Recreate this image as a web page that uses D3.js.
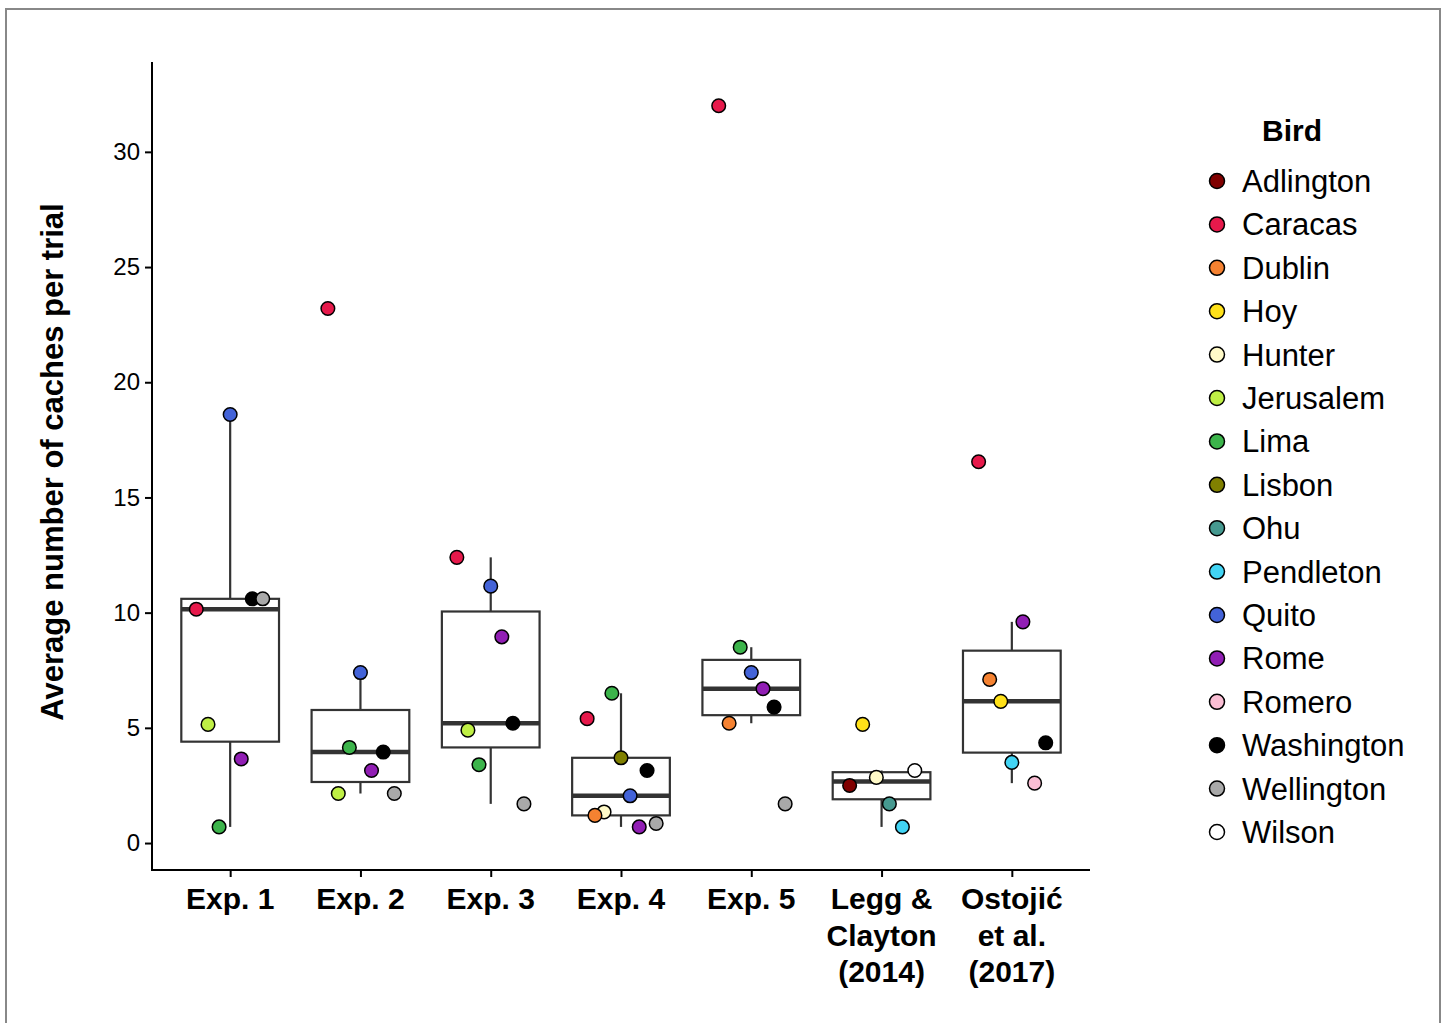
<!DOCTYPE html>
<html>
<head>
<meta charset="utf-8">
<script src="https://cdn.jsdelivr.net/npm/d3@7"></script>
<style>
  body { margin: 0; background: #fff; }
  svg { display: block; font-family: "Liberation Sans", Arial, Helvetica, sans-serif; }
</style>
</head>
<body>
<div id="chart"></div>
<script>
// categories (x axis), each label split in lines
const categories = ["Exp. 1", "Exp. 2", "Exp. 3", "Exp. 4", "Exp. 5", "Legg & Clayton (2014)", "Ostojić et al. (2017)"];
const categoryLines = [["Exp. 1"], ["Exp. 2"], ["Exp. 3"], ["Exp. 4"], ["Exp. 5"], ["Legg &", "Clayton", "(2014)"], ["Ostojić", "et al.", "(2017)"]];

const birds = ["Adlington", "Caracas", "Dublin", "Hoy", "Hunter", "Jerusalem", "Lima", "Lisbon", "Ohu",
  "Pendleton", "Quito", "Rome", "Romero", "Washington", "Wellington", "Wilson"];
const birdColors = ["#800000", "#e6194b", "#f58231", "#ffe119", "#fffac8", "#bfef45", "#3cb44b", "#808000", "#469990",
  "#42d4f4", "#4363d8", "#911eb4", "#fabed4", "#000000", "#a9a9a9", "#ffffff"];

const yTicks = [0, 5, 10, 15, 20, 25, 30];

// per category: birds, values, jitter (fraction of category step)
const exp1Birds = ["Quito", "Washington", "Wellington", "Caracas", "Jerusalem", "Rome", "Lima"];
const exp1Values = [18.6, 10.6, 10.6, 10.15, 5.15, 3.65, 0.7];
const exp1Jitter = [0, 0.17, 0.25, -0.26, -0.17, 0.085, -0.085];

const exp2Birds = ["Caracas", "Quito", "Lima", "Washington", "Rome", "Jerusalem", "Wellington"];
const exp2Values = [23.2, 7.4, 4.15, 3.95, 3.15, 2.15, 2.15];
const exp2Jitter = [-0.25, 0, -0.085, 0.175, 0.085, -0.17, 0.26];

const exp3Birds = ["Caracas", "Quito", "Rome", "Washington", "Jerusalem", "Lima", "Wellington"];
const exp3Values = [12.4, 11.15, 8.95, 5.2, 4.9, 3.4, 1.7];
const exp3Jitter = [-0.26, 0, 0.085, 0.17, -0.175, -0.09, 0.255];

const exp4Birds = ["Lima", "Caracas", "Lisbon", "Washington", "Quito", "Hunter", "Dublin", "Wellington", "Rome"];
const exp4Values = [6.5, 5.4, 3.7, 3.15, 2.05, 1.35, 1.2, 0.85, 0.7];
const exp4Jitter = [-0.07, -0.26, 0, 0.2, 0.07, -0.13, -0.2, 0.27, 0.14];

const exp5Birds = ["Caracas", "Lima", "Quito", "Rome", "Washington", "Dublin", "Wellington"];
const exp5Values = [32.0, 8.5, 7.4, 6.7, 5.9, 5.2, 1.7];
const exp5Jitter = [-0.25, -0.085, 0, 0.09, 0.175, -0.17, 0.26];

const leggBirds = ["Hoy", "Wilson", "Hunter", "Adlington", "Ohu", "Pendleton"];
const leggValues = [5.15, 3.15, 2.85, 2.5, 1.7, 0.7];
const leggJitter = [-0.145, 0.255, -0.04, -0.245, 0.06, 0.16];

const ostojicBirds = ["Caracas", "Rome", "Dublin", "Hoy", "Washington", "Pendleton", "Romero"];
const ostojicValues = [16.55, 9.6, 7.1, 6.15, 4.35, 3.5, 2.6];
const ostojicJitter = [-0.255, 0.085, -0.17, -0.085, 0.26, 0, 0.175];

const groups = [
  [exp1Birds, exp1Values, exp1Jitter],
  [exp2Birds, exp2Values, exp2Jitter],
  [exp3Birds, exp3Values, exp3Jitter],
  [exp4Birds, exp4Values, exp4Jitter],
  [exp5Birds, exp5Values, exp5Jitter],
  [leggBirds, leggValues, leggJitter],
  [ostojicBirds, ostojicValues, ostojicJitter]
];

const points = [];
groups.forEach((g, gi) => {
  g[0].forEach((b, i) => points.push({ cat: categories[gi], bird: b, value: g[1][i], jitter: g[2][i] }));
});

// boxplot stats like ggplot (type 7 quantiles, 1.5 IQR whiskers)
const boxes = groups.map((g, gi) => {
  const v = g[1].slice().sort(d3.ascending);
  const q1 = d3.quantile(v, 0.25), med = d3.quantile(v, 0.5), q3 = d3.quantile(v, 0.75);
  const iqr = q3 - q1;
  const lo = d3.min(v.filter((d) => d >= q1 - 1.5 * iqr));
  const hi = d3.max(v.filter((d) => d <= q3 + 1.5 * iqr));
  return { cat: categories[gi], q1, med, q3, lo, hi };
});

const W = 1445, H = 1023;
const svg = d3.select("#chart").append("svg").attr("width", W).attr("height", H);

// outer frame
svg.append("rect").attr("x", 6).attr("y", 9).attr("width", 1434).attr("height", 1030)
  .attr("fill", "none").attr("stroke", "#888").attr("stroke-width", 2);

const x = d3.scalePoint().domain(categories).range([152, 1090]).padding(0.6);
const y = d3.scaleLinear().domain([-1.17, 33.9]).range([870, 62]);
const color = d3.scaleOrdinal().domain(birds).range(birdColors);
const step = x.step();
const boxW = step * 0.75;

// axes
const yAxis = d3.axisLeft(y).tickValues(yTicks).tickSize(7).tickPadding(5);
const gy = svg.append("g").attr("transform", "translate(152,0)").call(yAxis);
gy.select(".domain").remove();
gy.selectAll(".tick line").attr("stroke", "#000").attr("stroke-width", 2);
gy.selectAll(".tick text").attr("font-size", 24).attr("fill", "#000").attr("font-family", null);

const xAxis = d3.axisBottom(x).tickSize(7).tickFormat(() => "");
const gx = svg.append("g").attr("transform", "translate(0,870)").call(xAxis);
gx.select(".domain").remove();
gx.selectAll(".tick line").attr("stroke", "#000").attr("stroke-width", 2);

svg.append("line").attr("x1", 152).attr("x2", 152).attr("y1", 62).attr("y2", 871)
  .attr("stroke", "#000").attr("stroke-width", 2);
svg.append("line").attr("x1", 151).attr("x2", 1090).attr("y1", 870).attr("y2", 870)
  .attr("stroke", "#000").attr("stroke-width", 2);

// x labels
categories.forEach((c, i) => {
  const t = svg.append("text").attr("x", x(c)).attr("y", 909)
    .attr("text-anchor", "middle").attr("font-size", 30).attr("font-weight", "bold");
  categoryLines[i].forEach((ln, j) => {
    t.append("tspan").attr("x", x(c)).attr("dy", j === 0 ? 0 : 36.5).text(ln);
  });
});

// y title
svg.append("text").attr("transform", "translate(63,462) rotate(-90)")
  .attr("text-anchor", "middle").attr("font-size", 31).attr("font-weight", "bold")
  .text("Average number of caches per trial");

// boxplots
const bg = svg.append("g");
boxes.forEach((b) => {
  const cx = x(b.cat);
  bg.append("line").attr("x1", cx).attr("x2", cx).attr("y1", y(b.q3)).attr("y2", y(b.hi))
    .attr("stroke", "#333").attr("stroke-width", 2.2);
  bg.append("line").attr("x1", cx).attr("x2", cx).attr("y1", y(b.q1)).attr("y2", y(b.lo))
    .attr("stroke", "#333").attr("stroke-width", 2.2);
  bg.append("rect").attr("x", cx - boxW / 2).attr("width", boxW)
    .attr("y", y(b.q3)).attr("height", y(b.q1) - y(b.q3))
    .attr("fill", "#fff").attr("stroke", "#333").attr("stroke-width", 2.2);
  bg.append("line").attr("x1", cx - boxW / 2).attr("x2", cx + boxW / 2)
    .attr("y1", y(b.med)).attr("y2", y(b.med)).attr("stroke", "#333").attr("stroke-width", 4.5);
});

// points
svg.append("g").selectAll("circle").data(points).join("circle")
  .attr("cx", (d) => x(d.cat) + d.jitter * step)
  .attr("cy", (d) => y(d.value))
  .attr("r", 6.8)
  .attr("fill", (d) => color(d.bird))
  .attr("stroke", "#000").attr("stroke-width", 1.5);

// legend
const lg = svg.append("g");
lg.append("text").attr("x", 1292).attr("y", 141).attr("text-anchor", "middle")
  .attr("font-size", 30).attr("font-weight", "bold").text("Bird");
birds.forEach((b, i) => {
  const cy = 181 + i * 43.4;
  lg.append("circle").attr("cx", 1217).attr("cy", cy).attr("r", 7.5)
    .attr("fill", color(b)).attr("stroke", "#000").attr("stroke-width", 1.5);
  lg.append("text").attr("x", 1242).attr("y", cy + 11).attr("font-size", 31).text(b);
});
</script>
</body>
</html>
